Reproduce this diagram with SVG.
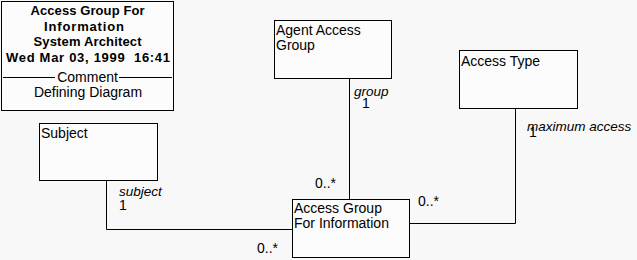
<svg xmlns="http://www.w3.org/2000/svg" width="637" height="260" viewBox="0 0 637 260">
  <style>
    .box { fill: #fcfcfc; stroke: #000; stroke-width: 1; }
    .conn { fill: none; stroke: #000; stroke-width: 1; }
    text { font-family: "Liberation Sans", Arial, sans-serif; font-size: 14px; fill: #000; }
    .title { font-weight: bold; font-size: 13px; text-anchor: middle; }
    .center { text-anchor: middle; }
    .role { font-style: italic; font-size: 13.5px; }
  </style>
  <rect width="637" height="260" fill="#f8f8f8"/>

  <!-- diagram header -->
  <g id="header">
    <rect class="box" x="1.5" y="1.5" width="172" height="109"/>
    <text class="title" x="87.5" y="15" textLength="114">Access Group For</text>
    <text class="title" x="84" y="31" textLength="80">Information</text>
    <text class="title" x="87.5" y="46" textLength="108">System Architect</text>
    <text class="title" x="88" y="62" textLength="164" xml:space="preserve">Wed Mar 03, 1999  16:41</text>
    <line class="conn" x1="3" y1="77.5" x2="55" y2="77.5"/>
    <line class="conn" x1="119" y1="77.5" x2="172" y2="77.5"/>
    <text class="center" x="87.5" y="82">Comment</text>
    <text class="center" x="88" y="97">Defining Diagram</text>
  </g>

  <!-- associations -->
  <g id="connectors">
    <path class="conn" d="M106.5 181 V229.5 H292"/>
    <path class="conn" d="M349.5 79 V199"/>
    <path class="conn" d="M515.5 109 V223.5 H410"/>
    <text class="role" x="119" y="196">subject</text>
    <text x="119" y="210">1</text>
    <text class="role" x="354" y="96">group</text>
    <text x="362" y="108">1</text>
    <text x="529" y="137">1</text>
    <text class="role" x="527" y="131">maximum access</text>
    <text x="315" y="188">0..*</text>
    <text x="418" y="206">0..*</text>
    <text x="257" y="253">0..*</text>
  </g>

  <g id="agent-access-group">
    <rect class="box" x="274.5" y="20.5" width="117" height="58"/>
    <text x="276" y="35">Agent Access</text>
    <text x="276" y="50">Group</text>
  </g>

  <g id="access-type">
    <rect class="box" x="459.5" y="50.5" width="118" height="58"/>
    <text x="461" y="66">Access Type</text>
  </g>

  <g id="subject">
    <rect class="box" x="39.5" y="123.5" width="118" height="57"/>
    <text x="41" y="138">Subject</text>
  </g>

  <g id="access-group-for-information">
    <rect class="box" x="292.5" y="199.5" width="117" height="58"/>
    <text x="294" y="213">Access Group</text>
    <text x="294" y="228">For Information</text>
  </g>
</svg>
